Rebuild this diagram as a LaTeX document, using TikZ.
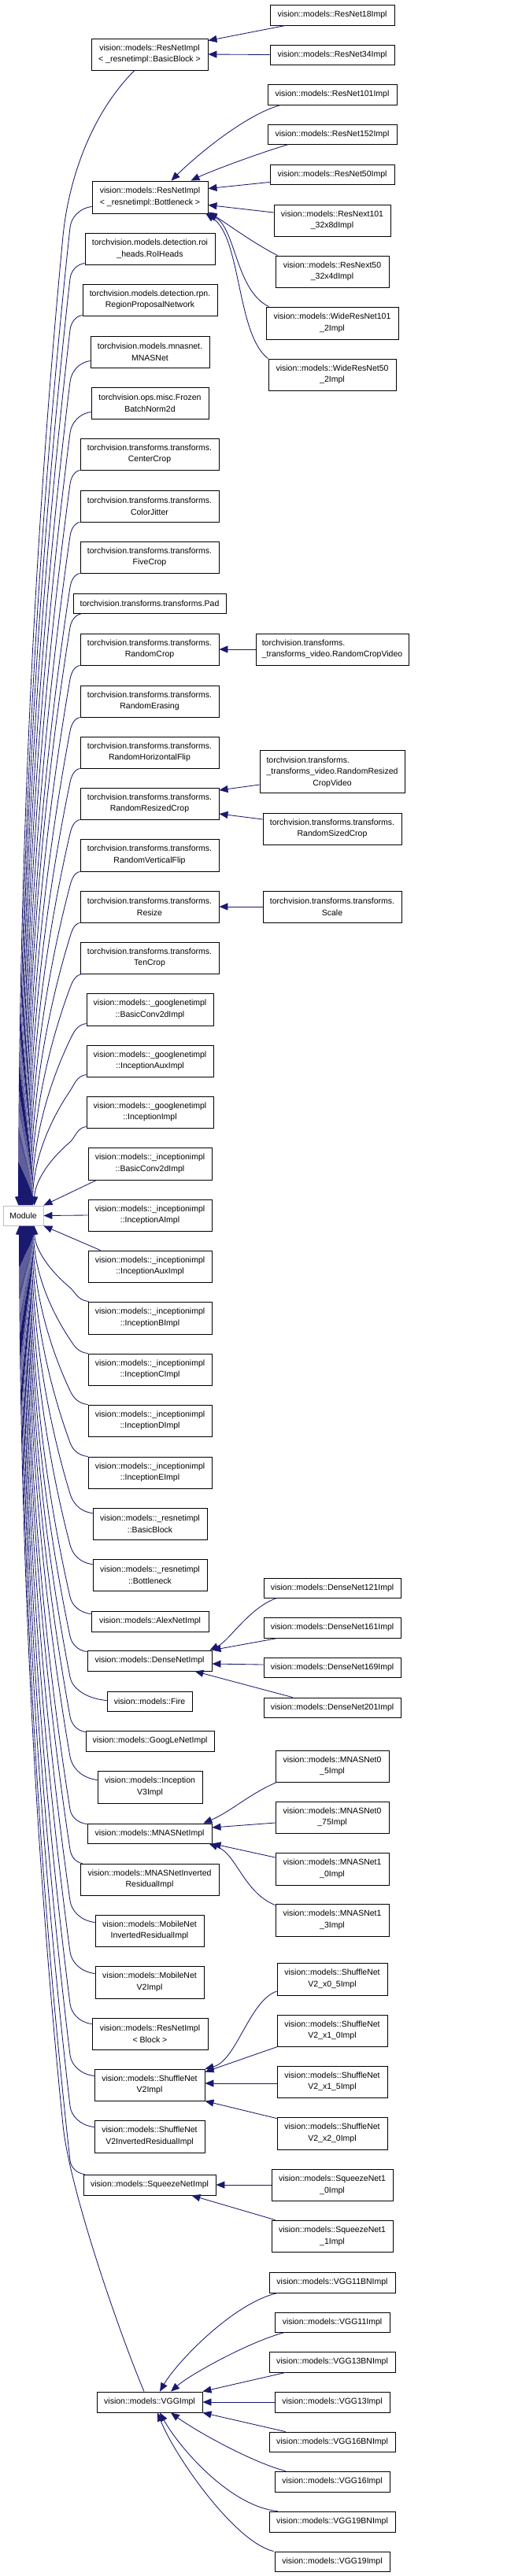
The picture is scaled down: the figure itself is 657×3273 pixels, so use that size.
\documentclass[tikz,border=0pt]{standalone}
\usepackage{fontspec}
\setmainfont{Liberation Sans}
\usetikzlibrary{arrows.meta,calc}
\definecolor{dxblue}{HTML}{191970}
\newcommand\dxfont{\fontsize{10.5}{14.5}\selectfont}
\tikzset{
  cls/.style={draw=black, line width=0.9pt, fill=white, inner sep=0pt, align=center, font=\dxfont, text=black},
  conn/.style={draw=dxblue, line width=0.85pt, -{Triangle[length=11pt,width=9pt]}},
}
\newcommand\dxnode[6]{\node[cls, minimum width=#2pt, minimum height=#3pt] (#1) at (#4,#5) {#6};}
\begin{document}
\begin{tikzpicture}[x=1pt,y=-1pt]
\useasboundingbox (0,0) rectangle (657,3273);
\fill[white] (0,0) rectangle (657,3273);

% root
\node[cls, draw=gray!50, minimum width=51pt, minimum height=25pt] (Module) at (29.5,1544.5) {Module};

% middle column
\dxnode{m1}{148}{40}{190}{69}{vision::models::ResNetImpl\\< \_resnetimpl::BasicBlock >}
\dxnode{m2}{147}{41}{190.5}{250.5}{vision::models::ResNetImpl\\< \_resnetimpl::Bottleneck >}
\dxnode{m3}{165}{40}{190.5}{316}{torchvision.models.detection.roi\\\_heads.RoIHeads}
\dxnode{m4}{171}{40}{190.5}{381}{torchvision.models.detection.rpn.\\RegionProposalNetwork}
\dxnode{m5}{151}{40}{190.5}{447}{torchvision.models.mnasnet.\\MNASNet}
\dxnode{m6}{149}{40}{190.5}{512}{torchvision.ops.misc.Frozen\\BatchNorm2d}
\dxnode{m7}{176}{40}{190}{577}{torchvision.transforms.transforms.\\CenterCrop}
\dxnode{m8}{176}{40}{190}{643}{torchvision.transforms.transforms.\\ColorJitter}
\dxnode{m9}{176}{40}{190}{708}{torchvision.transforms.transforms.\\FiveCrop}
\dxnode{m10}{194}{25}{190}{766.5}{torchvision.transforms.transforms.Pad}
\dxnode{m11}{176}{40}{190}{825}{torchvision.transforms.transforms.\\RandomCrop}
\dxnode{m12}{176}{40}{190}{891}{torchvision.transforms.transforms.\\RandomErasing}
\dxnode{m13}{176}{40}{190}{956}{torchvision.transforms.transforms.\\RandomHorizontalFlip}
\dxnode{m14}{176}{40}{190}{1021}{torchvision.transforms.transforms.\\RandomResizedCrop}
\dxnode{m15}{176}{41}{190}{1086.5}{torchvision.transforms.transforms.\\RandomVerticalFlip}
\dxnode{m16}{176}{40}{190}{1152}{torchvision.transforms.transforms.\\Resize}
\dxnode{m17}{176}{40}{190}{1217}{torchvision.transforms.transforms.\\TenCrop}
\dxnode{m18}{161}{41}{190.5}{1282.5}{vision::models::\_googlenetimpl\\::BasicConv2dImpl}
\dxnode{m19}{161}{40}{190.5}{1348}{vision::models::\_googlenetimpl\\::InceptionAuxImpl}
\dxnode{m20}{161}{40}{190.5}{1413}{vision::models::\_googlenetimpl\\::InceptionImpl}
\dxnode{m21}{157}{41}{190.5}{1478.5}{vision::models::\_inceptionimpl\\::BasicConv2dImpl}
\dxnode{m22}{157}{40}{190.5}{1544}{vision::models::\_inceptionimpl\\::InceptionAImpl}
\dxnode{m23}{157}{40}{190.5}{1609}{vision::models::\_inceptionimpl\\::InceptionAuxImpl}
\dxnode{m24}{157}{41}{190.5}{1674.5}{vision::models::\_inceptionimpl\\::InceptionBImpl}
\dxnode{m25}{157}{40}{190.5}{1740}{vision::models::\_inceptionimpl\\::InceptionCImpl}
\dxnode{m26}{157}{40}{190.5}{1805}{vision::models::\_inceptionimpl\\::InceptionDImpl}
\dxnode{m27}{157}{40}{190.5}{1871}{vision::models::\_inceptionimpl\\::InceptionEImpl}
\dxnode{m28}{145}{40}{190.5}{1936}{vision::models::\_resnetimpl\\::BasicBlock}
\dxnode{m29}{145}{40}{190.5}{2001}{vision::models::\_resnetimpl\\::Bottleneck}
\dxnode{m30}{149}{26}{190.5}{2060}{vision::models::AlexNetImpl}
\dxnode{m31}{158}{26}{190}{2110}{vision::models::DenseNetImpl}
\dxnode{m32}{108}{25}{190}{2161.5}{vision::models::Fire}
\dxnode{m33}{163}{26}{190.5}{2212}{vision::models::GoogLeNetImpl}
\dxnode{m34}{133}{41}{190.5}{2270.5}{vision::models::Inception\\V3Impl}
\dxnode{m35}{158}{25}{190}{2329.5}{vision::models::MNASNetImpl}
\dxnode{m36}{176}{40}{190}{2388}{vision::models::MNASNetInverted\\ResidualImpl}
\dxnode{m37}{138}{40}{190}{2453}{vision::models::MobileNet\\InvertedResidualImpl}
\dxnode{m38}{138}{41}{190}{2518.5}{vision::models::MobileNet\\V2Impl}
\dxnode{m39}{147}{40}{190.5}{2584}{vision::models::ResNetImpl\\< Block >}
\dxnode{m40}{140}{40}{190}{2649}{vision::models::ShuffleNet\\V2Impl}
\dxnode{m41}{140}{41}{190}{2714.5}{vision::models::ShuffleNet\\V2InvertedResidualImpl}
\dxnode{m42}{168}{26}{190}{2776}{vision::models::SqueezeNetImpl}
\dxnode{m43}{134}{26}{190}{3052}{vision::models::VGGImpl}

% right column
\dxnode{r18}{158}{26}{422}{19}{vision::models::ResNet18Impl}
\dxnode{r34}{158}{25}{422}{69.5}{vision::models::ResNet34Impl}
\dxnode{r101}{164}{26}{422}{120}{vision::models::ResNet101Impl}
\dxnode{r152}{164}{25}{422}{170.5}{vision::models::ResNet152Impl}
\dxnode{r50}{158}{25}{422}{221.5}{vision::models::ResNet50Impl}
\dxnode{rx101}{148}{40}{422}{280}{vision::models::ResNext101\\\_32x8dImpl}
\dxnode{rx50}{144}{40}{422}{345}{vision::models::ResNext50\\\_32x4dImpl}
\dxnode{wr101}{168}{41}{422}{410.5}{vision::models::WideResNet101\\\_2Impl}
\dxnode{wr50}{162}{40}{422}{476}{vision::models::WideResNet50\\\_2Impl}
\node[cls, align=left, minimum width=194pt, minimum height=40pt] (rcv) at (422,825) {torchvision.transforms.\\\_transforms\_video.RandomCropVideo};
\dxnode{rrcv}{184}{54}{422}{980}{\begin{tabular}[b]{@{}l@{}}torchvision.transforms.\\\_transforms\_video.RandomResized\end{tabular}\\CropVideo}
\dxnode{rsc}{176}{40}{422}{1053}{torchvision.transforms.transforms.\\RandomSizedCrop}
\dxnode{scale}{176}{40}{422}{1152}{torchvision.transforms.transforms.\\Scale}
\dxnode{d121}{174}{25}{422}{2017.5}{vision::models::DenseNet121Impl}
\dxnode{d161}{174}{26}{422}{2068}{vision::models::DenseNet161Impl}
\dxnode{d169}{174}{25}{422}{2118.5}{vision::models::DenseNet169Impl}
\dxnode{d201}{174}{25}{422}{2169.5}{vision::models::DenseNet201Impl}
\dxnode{mn05}{144}{40}{422}{2244}{vision::models::MNASNet0\\\_5Impl}
\dxnode{mn075}{144}{40}{422}{2309}{vision::models::MNASNet0\\\_75Impl}
\dxnode{mn10}{144}{41}{422}{2374.5}{vision::models::MNASNet1\\\_0Impl}
\dxnode{mn13}{144}{41}{422}{2439.5}{vision::models::MNASNet1\\\_3Impl}
\dxnode{s05}{140}{41}{422}{2514.5}{vision::models::ShuffleNet\\V2\_x0\_5Impl}
\dxnode{s10}{140}{40}{422}{2580}{vision::models::ShuffleNet\\V2\_x1\_0Impl}
\dxnode{s15}{140}{40}{422}{2645}{vision::models::ShuffleNet\\V2\_x1\_5Impl}
\dxnode{s20}{140}{41}{422}{2710.5}{vision::models::ShuffleNet\\V2\_x2\_0Impl}
\dxnode{sq10}{154}{40}{422}{2776}{vision::models::SqueezeNet1\\\_0Impl}
\dxnode{sq11}{154}{40}{422}{2841}{vision::models::SqueezeNet1\\\_1Impl}
\dxnode{v11bn}{160}{26}{422}{2900}{vision::models::VGG11BNImpl}
\dxnode{v11}{146}{25}{422}{2950.5}{vision::models::VGG11Impl}
\dxnode{v13bn}{160}{26}{422}{3001}{vision::models::VGG13BNImpl}
\dxnode{v13}{146}{26}{422}{3052}{vision::models::VGG13Impl}
\dxnode{v16bn}{160}{25}{422}{3102.5}{vision::models::VGG16BNImpl}
\dxnode{v16}{146}{26}{422}{3153}{vision::models::VGG16Impl}
\dxnode{v19bn}{160}{26}{422}{3204}{vision::models::VGG19BNImpl}
\dxnode{v19}{146}{25}{422}{3254.5}{vision::models::VGG19Impl}

% ---- edges into Module from above ----
\draw[conn] ($(m1.south)+(-19,0)$) .. controls (120,140) and (88,220) .. (80,300)
  .. controls (40.8,710.7) and (24,1121) .. ($(Module.north west)+(20,0)$);
\foreach \nn/\xl/\yy/\oa/\ob/\xe in {m2/117/271/9/0/25, m3/108/336/2/0/26, m4/105/401/1/0/27,
   m5/115/467/9/0/28, m6/116/532/9/0/29, m7/102/597/0/0/30, m8/102/663/0/0/31, m9/102/728/0/0/32,
   m10/93/779/0/12/33, m11/102/845/0/0/34, m12/102/911/0/0/35, m13/102/976/0/0/36,
   m14/102/1041/0/0/37, m15/102/1107/0/0/38, m16/102/1172/0/0/39, m17/102/1237/0/3/40,
   m18/110/1303/3/0/41, m19/110/1368/3/0/42, m20/110/1433/2/0/44}{
  \pgfmathsetmacro\sx{\xl+\ob}
  \pgfmathsetmacro\sy{\yy-\oa}
  \pgfmathsetmacro\bx{89}
  \pgfmathsetmacro\by{\yy+18}
  \pgfmathsetmacro\eh{\by-\sy}
  \pgfmathsetmacro\ddx{-0.7*(\bx-\xe)}
  \pgfmathsetmacro\ddy{(1532-\by)/3}
  \pgfmathsetmacro\eL{100*veclen(\ddx/100,\ddy/100)}
  \pgfmathsetmacro\cax{\sx-0.6*(\sx-\bx)}
  \pgfmathsetmacro\cay{\sy+0.1*\eh}
  \pgfmathsetmacro\cbx{\bx-0.45*\eh*(\ddx/\eL)}
  \pgfmathsetmacro\cby{\by-0.45*\eh*(\ddy/\eL)}
  \pgfmathsetmacro\ccx{\bx+\ddx}
  \pgfmathsetmacro\ccy{\by+\ddy}
  \pgfmathsetmacro\cdy{1532-\ddy}
  \pgfmathsetmacro\off{\xe-4}
  \draw[conn] ($(\nn.south west)+(\ob,-\oa)$) .. controls (\cax,\cay) and (\cbx,\cby) .. (\bx,\by)
    .. controls (\ccx,\ccy) and (\xe,\cdy) .. ($(Module.north west)+(\off,0)$);
}
\draw[conn] ($(m21.south west)+(11,0)$) -- (Module.north east);
\draw[conn] (m22.west) -- (Module.east);
\draw[conn] ($(m23.north west)+(16,0)$) -- (Module.south east);

% ---- edges into Module from below ----
\foreach \nn/\xl/\yy/\oa/\ob/\xe in {m24/112/1654/0/1/44, m25/112/1720/0/0/43, m26/112/1785/0/0/42,
   m27/112/1851/0/0/41, m28/118/1916/7/0/40, m29/118/1981/7/0/39, m30/116/2047/4/0/38,
   m31/111/2097/2/0/37, m32/136/2149/12/0/36, m33/109/2199/2/0/35, m34/124/2250/12/0/34,
   m35/111/2317/1/0/33, m36/102/2368/0/3/32, m37/121/2433/10/0/31, m38/121/2498/10/0/30,
   m39/117/2564/8/0/29, m40/120/2629/9/0/28, m41/120/2694/9/0/27, m42/106/2763/0/2/26}{
  \pgfmathsetmacro\sx{\xl+\ob}
  \pgfmathsetmacro\sy{\yy+\oa}
  \pgfmathsetmacro\bx{89}
  \pgfmathsetmacro\by{\yy-18}
  \pgfmathsetmacro\eh{abs(\by-\sy)}
  \pgfmathsetmacro\ddx{-0.7*(\bx-\xe)}
  \pgfmathsetmacro\ddy{(1557-\by)/3}
  \pgfmathsetmacro\eL{100*veclen(\ddx/100,\ddy/100)}
  \pgfmathsetmacro\cax{\sx-0.6*(\sx-\bx)}
  \pgfmathsetmacro\cay{\sy-0.1*\eh}
  \pgfmathsetmacro\cbx{\bx-0.45*\eh*(\ddx/\eL)}
  \pgfmathsetmacro\cby{\by-0.45*\eh*(\ddy/\eL)}
  \pgfmathsetmacro\ccx{\bx+\ddx}
  \pgfmathsetmacro\ccy{\by+\ddy}
  \pgfmathsetmacro\cdy{1557-\ddy}
  \pgfmathsetmacro\off{\xe-4}
  \draw[conn] ($(\nn.north west)+(\ob,\oa)$) .. controls (\cax,\cay) and (\cbx,\cby) .. (\bx,\by)
    .. controls (\ccx,\ccy) and (\xe,\cdy) .. ($(Module.south west)+(\off,0)$);
}
\draw[conn] ($(m43.north)+(-7,0)$) .. controls (150,2960) and (88,2780) .. (80,2700)
  .. controls (41.5,2319) and (25,1938) .. ($(Module.south west)+(21,0)$);

% ---- right column edges ----
\draw[conn] ($(r18.south west)+(20,0)$) -- ($(m1.north east)+(0,3)$);
\draw[conn] (r34.west) -- (m1.east);
\draw[conn] ($(r101.south west)+(17,0)$) .. controls +(-45,12) and +(30,-30) .. ($(m2.north)+(27,0)$);
\draw[conn] ($(r152.south west)+(27,0)$) .. controls +(-40,12) and +(25,-12) .. ($(m2.north)+(52,0)$);
\draw[conn] ($(r50.south west)+(0,-3)$) -- ($(m2.north east)+(0,10)$);
\draw[conn] ($(rx101.west)+(0,-10)$) -- ($(m2.east)+(0,10)$);
\draw[conn] ($(rx50.north west)+(3,0)$) .. controls +(-30,-15) and +(20,12) .. ($(m2.south east)+(0,-2)$);
\draw[conn] ($(wr101.north west)+(4,0)$) .. controls +(-42,-20) and +(35,19) .. (m2.south east);
\draw[conn] (wr50.north west) .. controls +(-40,-30) and +(45,30) .. ($(m2.south east)+(-3,0)$);

\draw[conn] (rcv.west) -- (m11.east);
\draw[conn] ($(rrcv.west)+(0,17)$) -- ($(m14.east)+(0,-17)$);
\draw[conn] ($(rsc.west)+(0,-12)$) -- ($(m14.east)+(0,13)$);
\draw[conn] (scale.west) -- (m16.east);

\draw[conn] ($(d121.south west)+(17,0)$) .. controls +(-35,12) and +(25,-12) .. ($(m31.north east)+(-3,0)$);
\draw[conn] ($(d161.south west)+(18,0)$) -- (m31.north east);
\draw[conn] ($(d169.west)+(0,-3.5)$) -- ($(m31.east)+(0,4)$);
\draw[conn] ($(d201.north west)+(37,0)$) -- ($(m31.south east)+(-22,0)$);

\draw[conn] ($(mn05.south west)+(2,0)$) .. controls +(-35,15) and +(35,-15) .. ($(m35.north east)+(-11,0)$);
\draw[conn] ($(mn075.west)+(0,7)$) -- ($(m35.east)+(0,-7.5)$);
\draw[conn] ($(mn10.west)+(0,-14.5)$) -- (m35.south east);
\draw[conn] ($(mn13.north west)+(0,2)$) .. controls +(-40,-16) and +(35,13) .. ($(m35.south east)+(-4,0)$);

\draw[conn] ($(s05.west)+(0,15.5)$) .. controls +(-35,12) and +(40,-10) .. (m40.north east);
\draw[conn] ($(s10.south west)+(1,0)$) -- ($(m40.north east)+(0,4)$);
\draw[conn] ($(s15.west)+(0,2)$) -- ($(m40.east)+(0,-2)$);
\draw[conn] ($(s20.north west)+(0,2)$) -- (m40.south east);

\draw[conn] (sq10.west) -- (m42.east);
\draw[conn] ($(sq11.north west)+(5,0)$) -- ($(m42.south east)+(-31,0)$);

\draw[conn] ($(v11bn.south west)+(11,0)$) .. controls +(-55,12) and +(22,-38) .. ($(m43.north)+(13,0)$);
\draw[conn] ($(v11.south west)+(13,0)$) .. controls +(-45,12) and +(25,-22) .. ($(m43.north)+(27,0)$);
\draw[conn] ($(v13bn.south west)+(21,0)$) -- (m43.north east);
\draw[conn] (v13.west) -- (m43.east);
\draw[conn] ($(v16bn.north west)+(21,0)$) -- (m43.south east);
\draw[conn] ($(v16.north west)+(14,0)$) .. controls +(-45,-12) and +(30,22) .. ($(m43.south)+(27,0)$);
\draw[conn] ($(v19bn.north west)+(11,0)$) .. controls +(-60,-6) and +(25,45) .. ($(m43.south)+(13,0)$);
\draw[conn] ($(v19.north west)+(-1,0)$) .. controls +(-50,-12) and +(22,55) .. ($(m43.south)+(10,0)$);
\end{tikzpicture}
\end{document}
